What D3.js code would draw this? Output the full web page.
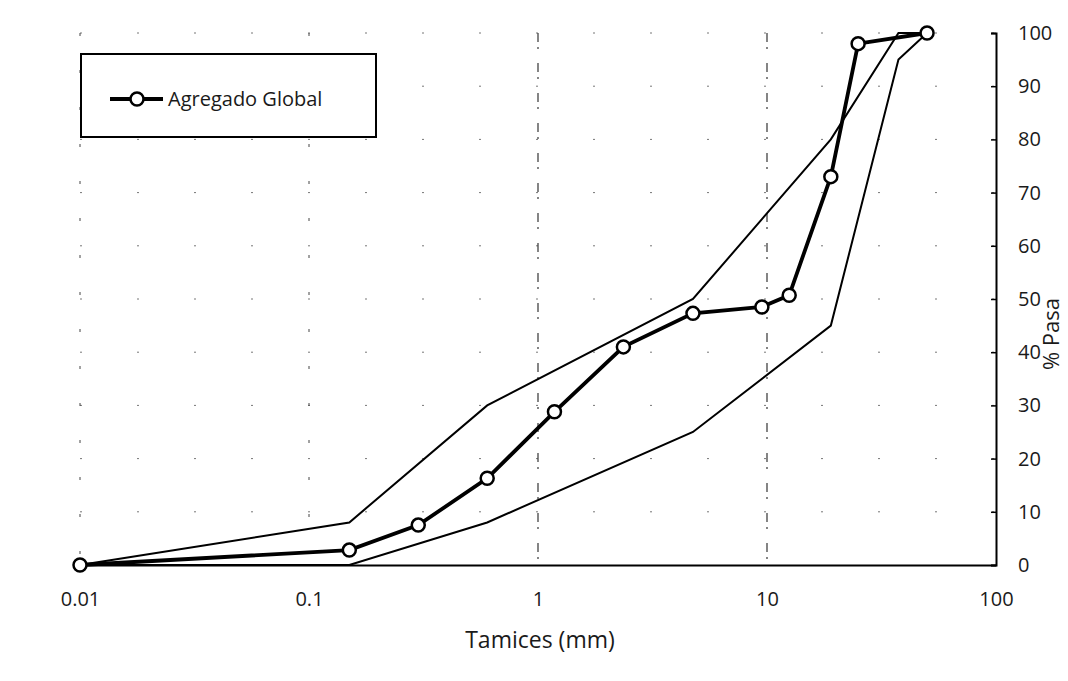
<!DOCTYPE html>
<html>
<head>
<meta charset="utf-8">
<script src="https://cdn.jsdelivr.net/npm/d3@7"></script>
<style>
  body { margin: 0; background: #fff; }
  text { font-family: "Open Sans", "Noto Sans", sans-serif; fill: #1a1a1a; }
</style>
</head>
<body>
<div id="chart"></div>
<script>
// tamiz (mm) y % que pasa
var sieves = [0.01, 0.15, 0.3, 0.6, 1.18, 2.36, 4.75, 9.5, 12.5, 19, 25, 50];
var pasa   = [0, 2.8, 7.5, 16.3, 28.8, 41, 47.3, 48.5, 50.7, 73, 98, 100];

// limites del huso
var upperX = [0.01, 0.15, 0.6, 4.75, 19, 37.5, 50];
var upperY = [0, 8, 30, 50, 80, 100, 100];
var lowerX = [0.01, 0.15, 0.6, 4.75, 19, 37.5, 50];
var lowerY = [0, 0, 8, 25, 45, 95, 100];

var xTicks = [0.01, 0.1, 1, 10, 100];
var xLabels = ["0.01", "0.1", "1", "10", "100"];
var yTicks = [0, 10, 20, 30, 40, 50, 60, 70, 80, 90, 100];

var W = 1068, H = 681;
var plot = {x0: 80, x1: 996, y0: 33, y1: 565};

var svg = d3.select("#chart").append("svg")
    .attr("width", W)
    .attr("height", H);

var x = d3.scaleLog().domain([0.01, 100]).range([plot.x0, plot.x1]);
var y = d3.scaleLinear().domain([0, 100]).range([plot.y1, plot.y0]);

// grid (punteado tenue, como en el escaneo)
svg.append("g").selectAll("line")
  .data(yTicks.slice(1))
  .enter().append("line")
    .attr("x1", plot.x0).attr("x2", plot.x1)
    .attr("y1", function(d) { return y(d); })
    .attr("y2", function(d) { return y(d); })
    .attr("stroke", "#777")
    .attr("stroke-width", 1)
    .attr("stroke-dasharray", "2,55");

svg.append("g").selectAll("line")
  .data(xTicks.slice(0, 4))
  .enter().append("line")
    .attr("x1", function(d) { return x(d); })
    .attr("x2", function(d) { return x(d); })
    .attr("y1", plot.y0).attr("y2", plot.y1)
    .attr("stroke", "#444")
    .attr("stroke-width", function(d) { return d >= 1 ? 1.3 : 1; })
    .attr("stroke-dasharray", function(d) { return d >= 1 ? "9,5,2,14" : "3,34"; });

// axes
var xAxis = svg.append("g")
    .attr("transform", "translate(0," + plot.y1 + ")")
    .call(d3.axisBottom(x).tickValues(xTicks)
      .tickFormat(function(d, i) { return xLabels[i]; })
      .tickSize(0).tickPadding(27));
xAxis.select(".domain").attr("stroke", "#000").attr("stroke-width", 2);
xAxis.selectAll("text").style("font-size", "20px").attr("fill", "#1a1a1a");

var yAxis = svg.append("g")
    .attr("transform", "translate(" + plot.x1 + ",0)")
    .call(d3.axisRight(y).tickValues(yTicks).tickSize(-5).tickPadding(22));
yAxis.select(".domain").attr("stroke", "#000").attr("stroke-width", 2);
yAxis.selectAll(".tick line").attr("stroke", "#000").attr("stroke-width", 1.5);
yAxis.selectAll("text").style("font-size", "20px").attr("fill", "#1a1a1a");

// titles
svg.append("text")
    .attr("x", 540).attr("y", 648)
    .attr("text-anchor", "middle")
    .style("font-size", "23px")
    .text("Tamices (mm)");

svg.append("text")
    .attr("transform", "translate(1059,334) rotate(-90)")
    .attr("text-anchor", "middle")
    .style("font-size", "22px")
    .text("% Pasa");

// lineas
var line = d3.line()
    .x(function(d) { return x(d[0]); })
    .y(function(d) { return y(d[1]); });

svg.append("path")
    .datum(d3.zip(upperX, upperY))
    .attr("d", line)
    .attr("fill", "none").attr("stroke", "#000").attr("stroke-width", 2);

svg.append("path")
    .datum(d3.zip(lowerX, lowerY))
    .attr("d", line)
    .attr("fill", "none").attr("stroke", "#000").attr("stroke-width", 2);

var pts = d3.zip(sieves, pasa);
svg.append("path")
    .datum(pts)
    .attr("d", line)
    .attr("fill", "none").attr("stroke", "#000").attr("stroke-width", 3.8);

svg.selectAll(".pt")
  .data(pts)
  .enter().append("circle")
    .attr("class", "pt")
    .attr("cx", function(d) { return x(d[0]); })
    .attr("cy", function(d) { return y(d[1]); })
    .attr("r", 6.5)
    .attr("fill", "#fff")
    .attr("stroke", "#000")
    .attr("stroke-width", 2.5);

// leyenda
var lg = svg.append("g");
lg.append("rect")
    .attr("x", 81).attr("y", 54)
    .attr("width", 295).attr("height", 83)
    .attr("fill", "#fff").attr("stroke", "#000").attr("stroke-width", 2);
lg.append("line")
    .attr("x1", 110).attr("x2", 163).attr("y1", 99).attr("y2", 99)
    .attr("stroke", "#000").attr("stroke-width", 3.8);
lg.append("circle")
    .attr("cx", 137).attr("cy", 99).attr("r", 6.5)
    .attr("fill", "#fff").attr("stroke", "#000").attr("stroke-width", 2.5);
lg.append("text")
    .attr("x", 168).attr("y", 99).attr("dy", "0.35em")
    .style("font-size", "20px")
    .text("Agregado Global");
</script>
</body>
</html>
